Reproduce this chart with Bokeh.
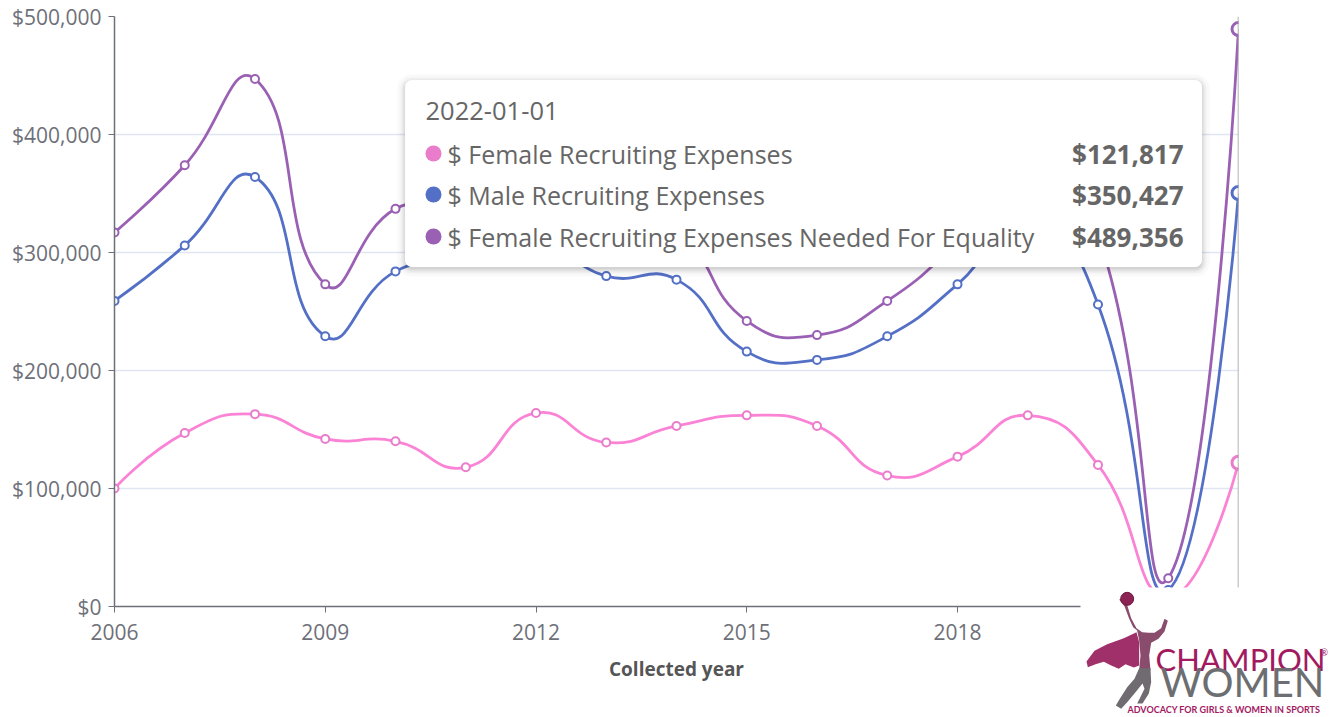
import math
from bokeh.plotting import figure
from bokeh.models import (Range1d, FixedTicker, SingleIntervalTicker, NumeralTickFormatter, Span,
                          ColumnDataSource)
from bokeh.core.properties import value
from bokeh.embed import file_html
from bokeh.resources import INLINE

# ---------------- data ----------------
years = [2006, 2007, 2008, 2009, 2010, 2011, 2012, 2013, 2014, 2015, 2016, 2017, 2018, 2019, 2020, 2021, 2022]
female = [100000, 147000, 163000, 142000, 140000, 118000, 164000, 139000, 153000, 162000, 153000, 111000,
          127000, 162000, 120000, 8000, 121817]
male = [259000, 306000, 364000, 229000, 284000, 292000, 310000, 280000, 277000, 216000, 209000, 229000,
        273000, 330000, 256000, 14000, 350427]
equality = [317000, 374000, 447000, 273000, 337000, 338000, 363000, 322000, 316000, 242000, 230000, 259000,
            309000, 370000, 315000, 24000, 489356]
x_ticks = [2006, 2009, 2012, 2015, 2018, 2021]
series_names = ["$ Female Recruiting Expenses", "$ Male Recruiting Expenses",
                "$ Female Recruiting Expenses Needed For Equality"]
tooltip_title = "2022-01-01"
tooltip_values = ["$121,817", "$350,427", "$489,356"]
x_title = "Collected year"

line_colors = ["#fb83d6", "#5470c6", "#9a60b4"]
dot_colors = ["#ea7ccc", "#5470c6", "#9a60b4"]

# ---------------- geometry ----------------
W, H = 1341, 717
FL, FR, FT, FB = 114, 1238, 16, 606          # frame edges in canvas px
X0, X1, Y0, Y1 = 2006, 2022, 0, 500000
SX = (FR - FL) / (X1 - X0)
SY = (FB - FT) / (Y1 - Y0)

def dx(cx):
    return X0 + (cx - FL) / SX

def dy(cy):
    return Y0 + (FB - cy) / SY

FONT = "Open Sans"
TXT = "#6e7079"

p = figure(width=W, height=H, output_backend="svg", toolbar_location=None,
           x_range=Range1d(X0, X1), y_range=Range1d(Y0, Y1),
           min_border_left=FL, min_border_right=W - FR, min_border_top=FT, min_border_bottom=H - FB)
p.outline_line_color = None
p.background_fill_color = "white"
p.border_fill_color = "white"

# axes
p.xaxis.ticker = FixedTicker(ticks=x_ticks)
p.yaxis.ticker = SingleIntervalTicker(interval=100000)
p.yaxis.formatter = NumeralTickFormatter(format="$0,0")
for ax in (p.xaxis[0], p.yaxis[0]):
    ax.axis_line_color = TXT
    ax.axis_line_width = 1.5
    ax.major_tick_line_color = TXT
    ax.minor_tick_line_color = None
    ax.major_tick_in = 0
    ax.major_tick_out = 6
    ax.major_label_text_font = FONT
    ax.major_label_text_font_size = "21px"
    ax.major_label_text_color = TXT
p.xaxis.major_label_standoff = 11
p.yaxis.major_label_standoff = 7
p.xaxis.axis_label = x_title
p.xaxis.axis_label_text_font = FONT
p.xaxis.axis_label_text_font_style = "bold"
p.xaxis.axis_label_text_font_size = "19px"
p.xaxis.axis_label_text_color = "#555555"
p.xaxis.axis_label_standoff = 13
p.xgrid.grid_line_color = None
p.ygrid.grid_line_color = "#e0e6f1"
p.ygrid.grid_line_width = 1.5

# axis pointer
p.add_layout(Span(location=years[-1], dimension="height", line_color="#9a9a9a", line_width=1.5))

# ---------------- smooth lines (ECharts-style bezier) ----------------
def bezier_segments(xs, ys, smooth=0.5):
    px = [(x - X0) * SX for x in xs]
    py = [(y - Y0) * SY for y in ys]
    n = len(px)
    out = dict(x0=[], y0=[], x1=[], y1=[], cx0=[], cy0=[], cx1=[], cy1=[])
    c0 = (px[0], py[0])
    for i in range(1, n):
        x, y = px[i], py[i]
        if i + 1 < n:
            ax_, ay_ = px[i - 1], py[i - 1]
            nx, ny = px[i + 1], py[i + 1]
            vx, vy = nx - ax_, ny - ay_
            l0 = math.hypot(x - ax_, y - ay_)
            l1 = math.hypot(nx - x, ny - y)
            r = l1 / (l0 + l1) if (l0 + l1) else 0.5
            c1 = (x - vx * smooth * (1 - r), y - vy * smooth * (1 - r))
            nc0 = (x + vx * smooth * r, y + vy * smooth * r)
        else:
            c1 = (x, y)
            nc0 = (x, y)
        out["x0"].append(X0 + px[i - 1] / SX); out["y0"].append(Y0 + py[i - 1] / SY)
        out["x1"].append(X0 + x / SX); out["y1"].append(Y0 + y / SY)
        out["cx0"].append(X0 + c0[0] / SX); out["cy0"].append(Y0 + c0[1] / SY)
        out["cx1"].append(X0 + c1[0] / SX); out["cy1"].append(Y0 + c1[1] / SY)
        c0 = nc0
    return out

all_series = [female, male, equality]
for vals, lc in zip(all_series, line_colors):
    src = ColumnDataSource(bezier_segments(years, vals))
    p.bezier(x0="x0", y0="y0", x1="x1", y1="y1", cx0="cx0", cy0="cy0", cx1="cx1", cy1="cy1",
             source=src, line_color=lc, line_width=2.8)
for vals, lc, dc in zip(all_series, line_colors, dot_colors):
    p.scatter(years[:-1], vals[:-1], size=8, line_width=2, line_color=dc, fill_color="white")
    p.scatter(years[-1:], vals[-1:], size=13, line_width=3, line_color=dc, fill_color="white")

# ---------------- tooltip (overlay glyphs) ----------------
TL, TR, TT, TBm = 405, 1201, 80, 266
for k, a in ((8, 0.025), (5, 0.035), (3, 0.05), (1, 0.07)):
    p.quad(left=[dx(TL - k)], right=[dx(TR + k)], top=[dy(TT - k + 2)], bottom=[dy(TBm + k + 2)],
           fill_color="black", fill_alpha=a, line_color=None, level="overlay", border_radius=6 + k)
p.quad(left=[dx(TL)], right=[dx(TR)], top=[dy(TT)], bottom=[dy(TBm)],
       fill_color="white", line_color="white", level="overlay", border_radius=6)
p.text(x=[dx(425)], y=[dy(110)], text=[tooltip_title], text_font=value(FONT),
       text_font_size=value("25.5px"), text_color="#666666", text_baseline="middle", level="overlay")
row_y = [153, 194, 236]
p.scatter([dx(433)] * 3, [dy(c) for c in row_y], size=16, fill_color=dot_colors, line_color=None,
          level="overlay")
p.text(x=[dx(447)] * 3, y=[dy(c) for c in row_y], text=series_names, text_font=value(FONT),
       text_font_size=value("25px"), text_color="#666666", text_baseline="middle", level="overlay")
p.text(x=[dx(1183)] * 3, y=[dy(c) for c in row_y], text=tooltip_values, text_font=value(FONT),
       text_font_size=value("26px"), text_font_style="bold", text_color="#666666",
       text_baseline="middle", text_align="right", level="overlay")

# ---------------- logo (overlay glyphs) ----------------
p.quad(left=[dx(1080)], right=[dx(1345)], top=[dy(587)], bottom=[dy(720)],
       fill_color="white", line_color=None, level="overlay")

def zc(pts):
    # logo drawing coordinates (local, 3x) -> data
    return [dx(1080 + a / 3) for a, b in pts], [dy(585 + b / 3) for a, b in pts]

cape = [(168, 140), (130, 158), (80, 176), (42, 196), (18, 228), (22, 245), (45, 236), (70, 229),
        (92, 240), (115, 250), (135, 236), (160, 246), (176, 240), (176, 170)]
body = [(116, 42), (132, 62), (146, 100), (158, 125), (170, 135), (176, 165), (180, 210), (176, 254),
        (210, 254), (206, 210), (212, 172), (234, 160), (252, 138), (262, 106), (252, 100), (242, 128),
        (222, 142), (205, 142), (185, 140), (168, 128), (152, 98), (138, 52), (128, 38)]
legs = [(176, 248), (162, 280), (140, 305), (118, 340), (106, 360), (122, 370), (140, 350), (165, 320),
        (186, 294), (192, 310), (178, 338), (170, 354), (186, 354), (205, 324), (212, 290), (210, 248)]
cx, cy = zc(cape)
p.patch(cx, cy, fill_color="#a0306a", line_color=None, level="overlay")
bx, by = zc(body)
p.patch(bx, by, fill_color="#8a4c6c", line_color=None, level="overlay")
lx, ly = zc(legs)
p.patch(lx, ly, fill_color="#6f6b70", line_color=None, level="overlay")
hx, hy = zc([(194, 120)])
p.scatter(hx, hy, size=11, fill_color="#8a4c6c", line_color=None, level="overlay")
ballx, bally = zc([(140, 40)])
p.scatter(ballx, bally, size=13, fill_color="#8c2354", line_color="#6d1a40", line_width=1,
          level="overlay")

p.text(x=[dx(1155)], y=[dy(677)], text=["CHAMPION"], text_font=value("Lato"),
       text_font_size=value("31px"), text_color="#a3195f", level="overlay")
p.text(x=[dx(1320)], y=[dy(657)], text=["®"], text_font=value("Lato"),
       text_font_size=value("9px"), text_color="#a3195f", level="overlay")
p.text(x=[dx(1160)], y=[dy(705)], text=["WOMEN"], text_font=value("Lato"),
       text_font_size=value("40px"), text_color="#6d6e71", level="overlay")
p.text(x=[dx(1127)], y=[dy(714)], text=["ADVOCACY FOR GIRLS & WOMEN IN SPORTS"], text_font=value("Lato"),
       text_font_size=value("9px"), text_font_style="bold", text_color="#a3195f", level="overlay")

open("out.html", "w").write(file_html(p, INLINE))
